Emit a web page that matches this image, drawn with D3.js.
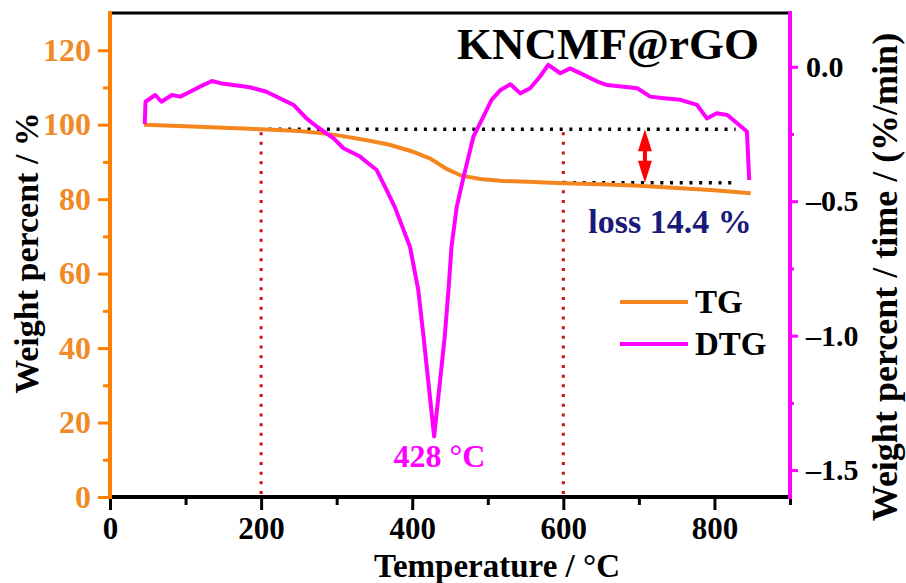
<!DOCTYPE html>
<html>
<head>
<meta charset="utf-8">
<script src="https://cdn.jsdelivr.net/npm/d3@7"></script>
<style>
  body { margin: 0; background: #fff; }
  svg text { font-family: "Liberation Serif", "Times New Roman", serif; font-weight: bold; }
</style>
</head>
<body>
<div id="chart"></div>
<script>
// TG curve (weight %, left axis)
const tgTemp = [45, 100, 150, 200, 250, 275, 300, 340, 370, 400, 425, 445, 465, 490, 520, 560, 600, 650, 700, 750, 800, 848];
const tgWeight = [100, 99.6, 99.2, 98.8, 98.3, 97.8, 97.2, 95.8, 94.6, 92.8, 90.8, 88.2, 86.3, 85.4, 84.9, 84.6, 84.3, 84.0, 83.6, 83.0, 82.4, 81.6];

// DTG curve (%/min, right axis)
const dtgTemp = [46, 47, 60, 68, 82, 93, 106, 119, 135, 146, 163, 185, 207, 229, 243, 260, 274, 296, 309, 331, 340, 353, 366, 377, 397, 408, 415, 422, 429, 436, 443, 448, 452, 459, 468, 481, 494, 505, 517, 530, 543, 556, 569, 580, 596, 609, 627, 645, 658, 680, 698, 715, 733, 755, 777, 790, 803, 817, 830, 843, 846];
const dtgRate = [-0.213, -0.130, -0.105, -0.130, -0.105, -0.111, -0.093, -0.074, -0.053, -0.061, -0.068, -0.076, -0.093, -0.123, -0.142, -0.192, -0.223, -0.266, -0.303, -0.334, -0.355, -0.384, -0.458, -0.522, -0.669, -0.830, -1.004, -1.19, -1.375, -1.19, -1.004, -0.830, -0.669, -0.520, -0.409, -0.260, -0.186, -0.123, -0.086, -0.065, -0.099, -0.080, -0.037, 0.007, -0.024, -0.006, -0.030, -0.055, -0.068, -0.074, -0.080, -0.111, -0.117, -0.123, -0.142, -0.192, -0.173, -0.179, -0.210, -0.241, -0.421];

// ticks
const xTicks = [0, 200, 400, 600, 800];
const xMinor = [100, 300, 500, 700, 900];
const yLTicks = [0, 20, 40, 60, 80, 100, 120];
const yLMinor = [10, 30, 50, 70, 90, 110];
const yRTicks = [0, -0.5, -1.0, -1.5];
const yRMinor = [-0.25, -0.75, -1.25];

// annotation values
const markTemps = [200, 600];        // red dotted verticals
const startWeight = 98.8, endWeight = 84.4;
const lossLabel = "loss 14.4 %";
const peakLabel = "428 °C";

const W = 906, H = 583;
const mLeft = 110, mRight = 790, mTop = 13, mBottom = 497;
const orange = "#ff8000", tgColor = "#f5861f", magenta = "#ff00ff";

const svg = d3.select("#chart").append("svg").attr("width", W).attr("height", H);

const x = d3.scaleLinear().domain([0, 900]).range([mLeft, mRight]);
const yL = d3.scaleLinear().domain([0, 130]).range([mBottom, mTop]);
const yR = d3.scaleLinear().domain([-1.6, 0.2]).range([mBottom, mTop]);

// red dotted verticals
svg.selectAll(".vmark").data(markTemps).enter().append("line")
  .attr("x1", d => x(d)).attr("x2", d => x(d))
  .attr("y1", yL(98)).attr("y2", mBottom)
  .attr("stroke", "#d01010").attr("stroke-width", 3)
  .attr("stroke-dasharray", "3,6.7");

// black dotted horizontals
svg.append("line")
  .attr("x1", x(210)).attr("x2", x(828))
  .attr("y1", yL(startWeight)).attr("y2", yL(startWeight))
  .attr("stroke", "#000").attr("stroke-width", 3.5).attr("stroke-dasharray", "3,6.7");
svg.append("line")
  .attr("x1", x(600)).attr("x2", x(828))
  .attr("y1", yL(endWeight)).attr("y2", yL(endWeight))
  .attr("stroke", "#000").attr("stroke-width", 3.5).attr("stroke-dasharray", "3,6.7");

// curves
const tgLine = d3.line().x(d => x(d[0])).y(d => yL(d[1]));
svg.append("path").datum(d3.zip(tgTemp, tgWeight))
  .attr("d", tgLine).attr("fill", "none")
  .attr("stroke", tgColor).attr("stroke-width", 4);

const dtgLine = d3.line().x(d => x(d[0])).y(d => yR(d[1]));
svg.append("path").datum(d3.zip(dtgTemp, dtgRate))
  .attr("d", dtgLine).attr("fill", "none")
  .attr("stroke", magenta).attr("stroke-width", 4).attr("stroke-linejoin", "round");

// double arrow
const ax = x(708), ay1 = yL(startWeight), ay2 = yL(endWeight);
svg.append("line").attr("x1", ax).attr("x2", ax)
  .attr("y1", ay1 + 12).attr("y2", ay2 - 12)
  .attr("stroke", "#ff0000").attr("stroke-width", 4);
svg.append("path")
  .attr("d", `M${ax},${ay1} L${ax - 7},${ay1 + 22} L${ax + 7},${ay1 + 22} Z`)
  .attr("fill", "#ff0000");
svg.append("path")
  .attr("d", `M${ax},${ay2} L${ax - 7},${ay2 - 22} L${ax + 7},${ay2 - 22} Z`)
  .attr("fill", "#ff0000");

// axes
function styleAxis(g, color) {
  g.select(".domain").remove();
  g.selectAll(".tick line").attr("stroke", color).attr("stroke-width", 3);
  g.selectAll(".tick text").attr("font-size", 32);
}

// frame lines
svg.append("line").attr("x1", mLeft).attr("x2", mRight).attr("y1", mTop).attr("y2", mTop)
  .attr("stroke", "#000").attr("stroke-width", 3);
svg.append("line").attr("x1", mLeft).attr("x2", mRight).attr("y1", mBottom).attr("y2", mBottom)
  .attr("stroke", "#000").attr("stroke-width", 4);

// bottom axis
const gx = svg.append("g").attr("transform", `translate(0,${mBottom})`)
  .call(d3.axisBottom(x).tickValues(xTicks).tickSize(13).tickPadding(7).tickFormat(d3.format("d")));
styleAxis(gx, "#000");
gx.selectAll(".tick text").attr("fill", "#000").attr("font-size", 31);
const gxm = svg.append("g").attr("transform", `translate(0,${mBottom})`)
  .call(d3.axisBottom(x).tickValues(xMinor).tickSize(8).tickFormat(""));
styleAxis(gxm, "#000");

// left axis
const gl = svg.append("g").attr("transform", `translate(${mLeft},0)`)
  .call(d3.axisLeft(yL).tickValues(yLTicks).tickSize(12).tickPadding(7).tickFormat(d3.format("d")));
styleAxis(gl, orange);
gl.selectAll(".tick text").attr("fill", "#ef8a26");
const glm = svg.append("g").attr("transform", `translate(${mLeft},0)`)
  .call(d3.axisLeft(yL).tickValues(yLMinor).tickSize(7).tickFormat(""));
styleAxis(glm, orange);
svg.append("line").attr("x1", mLeft).attr("x2", mLeft).attr("y1", mTop - 2).attr("y2", mBottom + 2)
  .attr("stroke", orange).attr("stroke-width", 4);

// right axis
const rFmt = d => (d < 0 ? "–" : "") + Math.abs(d).toFixed(1);
const gr = svg.append("g").attr("transform", `translate(${mRight},0)`)
  .call(d3.axisRight(yR).tickValues(yRTicks).tickSize(8).tickPadding(8).tickFormat(rFmt));
styleAxis(gr, magenta);
gr.selectAll(".tick text").attr("fill", "#000").attr("font-size", 30);
const grm = svg.append("g").attr("transform", `translate(${mRight},0)`)
  .call(d3.axisRight(yR).tickValues(yRMinor).tickSize(4).tickFormat(""));
styleAxis(grm, magenta);
svg.append("line").attr("x1", mRight).attr("x2", mRight).attr("y1", mTop - 2).attr("y2", mBottom + 2)
  .attr("stroke", magenta).attr("stroke-width", 4);

// axis titles
svg.append("text").attr("x", 497).attr("y", 577).attr("text-anchor", "middle")
  .attr("font-size", 33).attr("fill", "#000").text("Temperature / °C");
svg.append("text").attr("transform", `translate(38,253) rotate(-90)`).attr("text-anchor", "middle")
  .attr("font-size", 34).attr("fill", "#000").text("Weight percent / %");
svg.append("text").attr("transform", `translate(897,277) rotate(-90)`).attr("text-anchor", "middle")
  .attr("font-size", 36).attr("fill", "#000").text("Weight percent / time / (%/min)");

// title
svg.append("text").attr("x", 608).attr("y", 59).attr("text-anchor", "middle")
  .attr("font-size", 45).attr("fill", "#000").text("KNCMF@rGO");

// annotations
svg.append("text").attr("x", 670).attr("y", 233).attr("text-anchor", "middle")
  .attr("font-size", 34).attr("fill", "#1a1a78").text(lossLabel);
svg.append("text").attr("x", x(428) + 6).attr("y", 467).attr("text-anchor", "middle")
  .attr("font-size", 32).attr("fill", magenta).text(peakLabel);

// legend
const legend = [["TG", tgColor], ["DTG", magenta]];
const lg = svg.selectAll(".leg").data(legend).enter().append("g")
  .attr("transform", (d, i) => `translate(620,${302 + i * 42})`);
lg.append("line").attr("x1", 0).attr("x2", 68).attr("y1", 0).attr("y2", 0)
  .attr("stroke", d => d[1]).attr("stroke-width", 4);
lg.append("text").attr("x", 75).attr("y", 11).attr("font-size", 33).attr("fill", "#000")
  .text(d => d[0]);
</script>
</body>
</html>
